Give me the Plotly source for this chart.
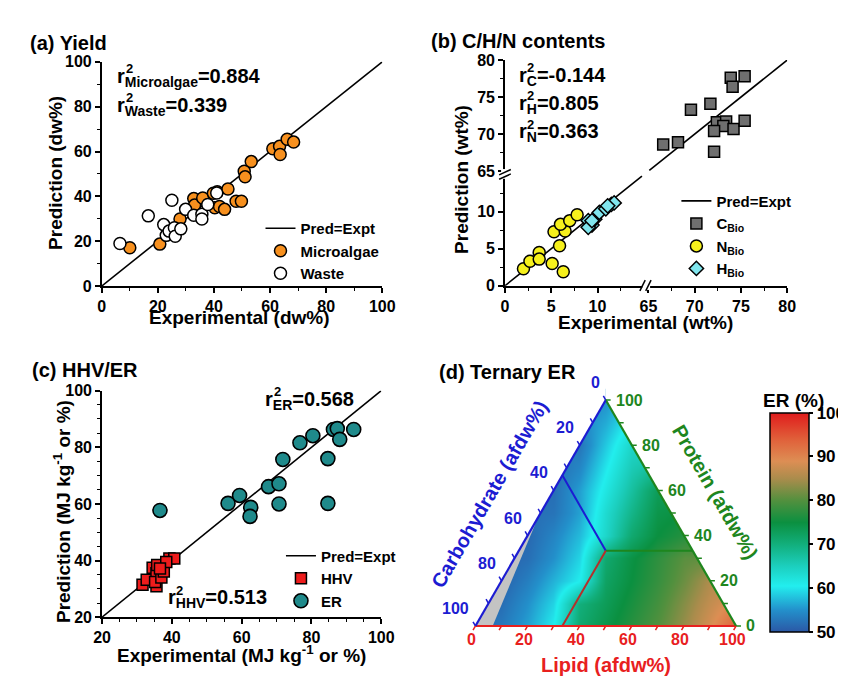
import math
import plotly.graph_objects as go

W, H = 846, 677
FONT = "Liberation Sans, Arial, sans-serif"

def fx(x):
    return x / W

def fy(y):
    return 1 - y / H

# ---------------- (a) Yield ----------------
a_micro_x = [10.0, 20.7, 27.9, 32.8, 33.1, 36.0, 39.8, 41.2, 40.3, 42.0, 43.8, 45.0, 47.9, 49.8, 50.8, 51.1, 53.3, 61.0, 63.4, 63.6, 66.1, 68.4]
a_micro_y = [17.1, 18.7, 29.9, 39.0, 36.1, 39.3, 41.4, 42.0, 34.9, 35.5, 34.2, 43.3, 37.8, 37.8, 51.2, 48.7, 55.5, 61.2, 62.3, 58.7, 65.5, 64.2]
a_waste_x = [6.5, 16.6, 22.1, 23.0, 24.0, 25.0, 25.9, 26.2, 28.2, 29.9, 32.8, 35.7, 35.7, 37.8, 41.0]
a_waste_y = [19.0, 31.3, 27.4, 22.6, 24.5, 38.3, 26.0, 22.2, 25.5, 34.2, 31.6, 32.0, 29.9, 36.4, 41.5]
a_ref = [0, 100]
a_ticks = [0, 20, 40, 60, 80, 100]

# ---------------- (b) C/H/N contents (broken axes) ----------------
b_C_x = [66.6, 68.2, 69.6, 71.7, 73.9, 74.1, 75.4, 72.4, 73.4, 73.1, 72.1, 74.2, 75.4, 72.1]
b_C_y = [68.6, 68.9, 73.3, 74.1, 77.6, 76.4, 77.8, 71.6, 71.7, 71.1, 70.4, 70.7, 71.8, 67.6]
b_N_x = [2.0, 2.7, 3.7, 3.7, 5.1, 6.3, 5.9, 5.3, 6.5, 6.0, 7.0, 7.8]
b_N_y = [2.3, 3.3, 4.5, 3.6, 3.0, 1.9, 5.4, 7.3, 7.4, 8.3, 8.8, 9.6]
b_H_x = [9.0, 9.4, 9.0, 9.7, 10.2, 10.9, 11.5, 11.8, 9.4, 11.1]
b_H_y = [8.8, 8.2, 7.9, 9.0, 9.9, 10.4, 11.0, 11.2, 8.8, 10.8]
b_ref = [0, 14.8, None, 65.1, 80]
b_ticks = [0, 5, 10, 65, 70, 75, 80]
b_minor = [2.5, 7.5, 12.5, 67.5, 72.5, 77.5]
BREAK_OFFSET = 49.5

def brk(v):
    if v is None:
        return None
    return v if v < 40 else v - BREAK_OFFSET

# ---------------- (c) HHV/ER ----------------
c_HHV_x = [31.6, 32.8, 34.5, 35.6, 35.8, 35.6, 35.2, 37.0, 37.7, 39.3, 40.7, 38.4, 36.6]
c_HHV_y = [31.5, 33.2, 37.5, 35.5, 38.4, 30.9, 32.4, 34.0, 36.1, 40.7, 40.7, 39.5, 37.2]
c_ER_x = [36.6, 56.1, 59.4, 62.6, 62.4, 67.7, 70.7, 70.7, 71.8, 76.7, 80.4, 84.7, 84.7, 86.3, 87.4, 88.1, 92.1]
c_ER_y = [57.7, 60.2, 63.0, 58.8, 55.6, 66.1, 67.1, 60.0, 75.7, 81.6, 84.1, 76.0, 60.2, 86.3, 86.6, 82.8, 86.3]
c_ref = [20, 100]
c_ticks = [20, 40, 60, 80, 100]

# ---------------- (d) Ternary ER ----------------
# grid: columns = horizontal position across the triangle (0 = carbohydrate vertex, 1 = lipid vertex)
# rows = protein fraction 0..1 ; values = ER (%)
tern_X = [0.0, 0.1, 0.2, 0.3, 0.4, 0.5, 0.6, 0.7, 0.8, 0.9, 1.0]
tern_protein = [0.0, 0.1, 0.2, 0.3, 0.4, 0.5, 0.6, 0.7, 0.8, 0.9, 1.0]
tern_ER = [
    [51, 53, 56, 60.5, 71, 74, 77, 80, 84, 88.5, 94],
    [51, 52, 55, 59, 70, 73, 76, 79, 83, 87, 90],
    [51, 51, 53.5, 57, 60.5, 72, 75, 78, 81.5, 85.5, 86],
    [51, 51, 52, 55, 59, 71, 74.5, 77.5, 80.5, 81, 81],
    [52, 52, 51.5, 54, 57.5, 63.8, 71, 75, 77, 77, 77],
    [52, 52, 52, 52.5, 56, 63.2, 69, 74, 75, 75, 75],
    [52, 52, 52, 52, 55.9, 61.6, 67.3, 73, 73, 73, 73],
    [53, 53, 53, 52, 54.2, 60, 65.6, 68, 68, 68, 68],
    [54, 54, 54, 54, 52.6, 58.3, 64, 64, 64, 64, 64],
    [54, 54, 54, 54, 54, 56.6, 61, 61, 61, 61, 61],
    [54, 54, 54, 54, 54, 55, 58, 58, 58, 58, 58],
]
tern_ticks = [0, 20, 40, 60, 80, 100]
tern_minor = [0, 10, 20, 30, 40, 50, 60, 70, 80, 90, 100]
gray_lipid_bottom = 0.066   # no-data wedge
gray_protein_tip = 0.48
er_range = [50, 100]
er_ticks = [50, 60, 70, 80, 90, 100]

S3 = math.sqrt(3) / 2

def tern(l, p):
    return (l + p / 2, p * S3)

er_colorscale = [
    [0.00, "#2b58a6"], [0.10, "#2390cb"], [0.21, "#22eeee"], [0.30, "#1ccfbe"],
    [0.40, "#12af7c"], [0.50, "#0b9040"], [0.60, "#52903e"], [0.70, "#aa8c4c"],
    [0.78, "#dd8e54"], [0.88, "#e0603a"], [1.00, "#e01c1c"],
]

fig = go.Figure()

# (a)
fig.add_trace(go.Scatter(x=a_ref, y=a_ref, mode="lines", line=dict(color="black", width=1.6),
                         name="Pred=Expt", xaxis="x", yaxis="y", legend="legend"))
fig.add_trace(go.Scatter(x=a_micro_x, y=a_micro_y, mode="markers", name="Microalgae",
                         marker=dict(size=12, color="#f7901e", line=dict(color="black", width=1.5)),
                         xaxis="x", yaxis="y", legend="legend"))
fig.add_trace(go.Scatter(x=a_waste_x, y=a_waste_y, mode="markers", name="Waste",
                         marker=dict(size=12, color="white", line=dict(color="black", width=1.5)),
                         xaxis="x", yaxis="y", legend="legend"))

# (b)
fig.add_trace(go.Scatter(x=[brk(v) for v in b_ref], y=[brk(v) for v in b_ref], mode="lines",
                         line=dict(color="black", width=1.6), name="Pred=Expt",
                         xaxis="x2", yaxis="y2", legend="legend2", connectgaps=False))
fig.add_trace(go.Scatter(x=[brk(v) for v in b_C_x], y=[brk(v) for v in b_C_y], mode="markers",
                         name="C<sub>Bio</sub>", marker=dict(symbol="square", size=11, color="#6f6f6f",
                                                            line=dict(color="black", width=1.5)),
                         xaxis="x2", yaxis="y2", legend="legend2"))
fig.add_trace(go.Scatter(x=b_N_x, y=b_N_y, mode="markers", name="N<sub>Bio</sub>",
                         marker=dict(size=12, color="#f6f01c", line=dict(color="black", width=1.5)),
                         xaxis="x2", yaxis="y2", legend="legend2"))
fig.add_trace(go.Scatter(x=b_H_x, y=b_H_y, mode="markers", name="H<sub>Bio</sub>",
                         marker=dict(symbol="diamond", size=11, color="#80e6ee",
                                     line=dict(color="black", width=1.5)),
                         xaxis="x2", yaxis="y2", legend="legend2"))

# (c)
fig.add_trace(go.Scatter(x=c_ref, y=c_ref, mode="lines", line=dict(color="black", width=1.6),
                         name="Pred=Expt", xaxis="x3", yaxis="y3", legend="legend3"))
fig.add_trace(go.Scatter(x=c_HHV_x, y=c_HHV_y, mode="markers", name="HHV",
                         marker=dict(symbol="square", size=11, color="#ee1c1c", line=dict(color="black", width=1.5)),
                         xaxis="x3", yaxis="y3", legend="legend3"))
fig.add_trace(go.Scatter(x=c_ER_x, y=c_ER_y, mode="markers", name="ER",
                         marker=dict(size=14, color="#1f8a8b", line=dict(color="black", width=1.6)),
                         xaxis="x3", yaxis="y3", legend="legend3"))

# (d) colour field
fig.add_trace(go.Heatmap(
    x=tern_X, y=[p * S3 for p in tern_protein], z=tern_ER, zmin=er_range[0], zmax=er_range[1],
    colorscale=er_colorscale, zsmooth="best", xaxis="x4", yaxis="y4", hoverinfo="skip",
    colorbar=dict(x=fx(773), xanchor="left", xpad=0, y=fy(519.2), yanchor="middle", ypad=0,
                  len=225 / H, lenmode="fraction", thickness=39, thicknessmode="pixels",
                  outlinewidth=1.5, outlinecolor="black", tickmode="array", tickvals=er_ticks,
                  ticks="outside", ticklen=4, tickwidth=1.5, tickcolor="black",
                  tickfont=dict(family=FONT, size=17, color="black", weight="bold")),
))

# ---------------- axes ----------------
tickfont = dict(family=FONT, size=16, color="black", weight="bold")
base = dict(showline=True, linecolor="black", linewidth=1.6, ticks="outside", ticklen=5,
            tickwidth=1.6, tickcolor="black", showgrid=False, zeroline=False, tickfont=tickfont)

def minor_d(dt):
    return dict(dtick=dt, ticks="outside", ticklen=3, tickwidth=1.4, tickcolor="black", showgrid=False)

# ternary axes pixel geometry
TRI_L, TRI_B, TRI_SC = 470.7, 625.7, 267.6
D4_X0, D4_X1, D4_Y0, D4_Y1 = 440, 772, 662, 378

layout = dict(
    width=W, height=H, margin=dict(l=0, r=0, t=0, b=0),
    paper_bgcolor="white", plot_bgcolor="white",
    font=dict(family=FONT, size=15, color="black", weight="bold"),
    xaxis=dict(base, domain=[fx(87), fx(375)], range=[0, 100], tickmode="array", tickvals=a_ticks,
               minor=minor_d(10), anchor="y"),
    yaxis=dict(base, domain=[fy(277), fy(47)], range=[0, 100], tickmode="array", tickvals=a_ticks,
               minor=minor_d(10), anchor="x"),
    xaxis2=dict(base, domain=[fx(501), fx(501 + 30.5 * 9.5)], range=[0, 30.5], tickmode="array",
                tickvals=[brk(v) for v in b_ticks], ticktext=[str(v) for v in b_ticks],
                minor=dict(tickmode="array", tickvals=[brk(v) for v in b_minor], ticks="outside",
                           ticklen=3, tickwidth=1.4, tickcolor="black"), anchor="y2"),
    yaxis2=dict(base, domain=[fy(276.7), fy(276.7 - 30.5 * 7.59)], range=[0, 30.5], tickmode="array",
                tickvals=[brk(v) for v in b_ticks], ticktext=[str(v) for v in b_ticks],
                minor=dict(tickmode="array", tickvals=[brk(v) for v in b_minor], ticks="outside",
                           ticklen=3, tickwidth=1.4, tickcolor="black"), anchor="x2"),
    xaxis3=dict(base, domain=[fx(87.3), fx(374)], range=[20, 100], tickmode="array", tickvals=c_ticks,
                minor=minor_d(5), anchor="y3"),
    yaxis3=dict(base, domain=[fy(616.7), fy(384.3)], range=[20, 100], tickmode="array", tickvals=c_ticks,
                minor=minor_d(5), anchor="x3"),
    xaxis4=dict(visible=False, domain=[fx(D4_X0), fx(D4_X1)],
                range=[(D4_X0 - TRI_L) / TRI_SC, (D4_X1 - TRI_L) / TRI_SC], anchor="y4", fixedrange=True),
    yaxis4=dict(visible=False, domain=[fy(D4_Y0), fy(D4_Y1)],
                range=[(TRI_B - D4_Y0) / TRI_SC, (TRI_B - D4_Y1) / TRI_SC], anchor="x4", fixedrange=True),
)

leg_common = dict(xanchor="left", yanchor="top", bgcolor="rgba(0,0,0,0)", borderwidth=0,
                  font=dict(family=FONT, size=15, color="black", weight="bold"), tracegroupgap=0)
layout["legend"] = dict(leg_common, x=fx(250), y=fy(201))
layout["legend2"] = dict(leg_common, x=fx(677), y=fy(173))
layout["legend3"] = dict(leg_common, x=fx(271), y=fy(537))

fig.update_layout(**layout)

# ---------------- annotations ----------------
annotations = []

def text(s, x, y, size, color="black", xanchor="center", yanchor="middle", angle=0):
    annotations.append(dict(text=s, x=fx(x), y=fy(y), xref="paper", yref="paper", showarrow=False,
                            xanchor=xanchor, yanchor=yanchor, textangle=angle,
                            font=dict(family=FONT, size=size, color=color, weight="bold")))

def tann(s, X, Y, size, color, xanchor, yanchor, xshift=0, yshift=0, angle=0):
    annotations.append(dict(text=s, x=X, y=Y, xref="x4", yref="y4", showarrow=False,
                            xanchor=xanchor, yanchor=yanchor, xshift=xshift, yshift=yshift,
                            textangle=angle, font=dict(family=FONT, size=size, color=color, weight="bold")))

# titles
text("(a) Yield", 11, 28, 20, xanchor="left")
text("(b) C/H/N contents", 423, 26, 20, xanchor="left")
text("(c) HHV/ER", 13, 363, 20, xanchor="left")
text("(d) Ternary ER", 431, 365, 20, xanchor="left")

# axis titles
text("Prediction (dw%)", 40, 161, 19, angle=-90)
text("Experimental (dw%)", 228, 309, 19)
text("Prediction (wt%)", 457, 168, 19, angle=-90)
text("Experimental (wt%)", 645, 314, 19)
text("Prediction (MJ kg<sup>-1</sup> or %)", 46, 508, 19, angle=-90)
text("Experimental (MJ kg<sup>-1</sup> or %)", 231, 654, 19)

# r^2 labels: main text with subscript + stacked superscript "2"
def r2(sub, val, x, y, subsize=13):
    annotations.append(dict(text="r<sub>%s</sub>=%s" % (sub, val), x=fx(x), y=fy(y), xref="paper", yref="paper",
                            showarrow=False, xanchor="left", yanchor="middle",
                            font=dict(family=FONT, size=20, color="black", weight="bold")))
    annotations.append(dict(text="2", x=fx(x + 8.5), y=fy(y - 9), xref="paper", yref="paper",
                            showarrow=False, xanchor="left", yanchor="middle",
                            font=dict(family=FONT, size=subsize, color="black", weight="bold")))

r2("Microalgae", "0.884", 101, 63)
r2("Waste", "0.339", 101, 93)
r2("C", "-0.144", 513, 62)
r2("H", "0.805", 513, 91)
r2("N", "0.363", 513, 120)
r2("ER", "0.568", 253, 394)
r2("HHV", "0.513", 153, 598)

# ternary labels
RED, GREEN, BLUE = "#e8201e", "#1e861e", "#1c1cd2"
for t in tern_ticks:
    X, Y = tern(t / 100, 0)
    tann(str(t), X, Y, 16, RED, "center", "middle", xshift=-4, yshift=-14)
    X, Y = tern(1 - t / 100, t / 100)
    tann(str(t), X, Y, 16, GREEN, "left", "middle", xshift=8)
    X, Y = tern(0, 1 - t / 100)
    tann(str(t), X, Y, 16, BLUE, "right", "bottom", xshift=-4, yshift=7)

text("Lipid (afdw%)", 605, 666, 20, color=RED)
text("Protein (afdw%)", 717, 488, 20, color=GREEN, angle=60)
text("Carbohydrate (afdw%)", 485, 490, 20, color=BLUE, angle=-60)
text("ER (%)", 797, 394, 19)

fig.update_layout(annotations=annotations)

# ---------------- shapes ----------------
shapes = []

def pline(x0, y0, x1, y1, color="black", width=1.5):
    shapes.append(dict(type="line", xref="paper", yref="paper", x0=fx(x0), y0=fy(y0), x1=fx(x1), y1=fy(y1),
                       line=dict(color=color, width=width), layer="above"))

def prect(x0, y0, x1, y1):
    shapes.append(dict(type="rect", xref="paper", yref="paper", x0=fx(x0), y0=fy(y0), x1=fx(x1), y1=fy(y1),
                       fillcolor="white", line=dict(width=0), layer="above"))

# axis breaks in (b)
prect(642, 273, 650, 281)
pline(639.5, 282, 645, 271)
pline(645.5, 282, 651, 271)
prect(497, 157, 505, 167)
pline(495, 163, 507, 157.5)
pline(495, 167.5, 507, 162)

def tpath(pts, fill):
    d = "M " + " L ".join("%f,%f" % p for p in pts) + " Z"
    shapes.append(dict(type="path", xref="x4", yref="y4", path=d, fillcolor=fill,
                       line=dict(width=0), layer="above"))

def tline(p0, p1, color, width=2):
    shapes.append(dict(type="line", xref="x4", yref="y4", x0=p0[0], y0=p0[1], x1=p1[0], y1=p1[1],
                       line=dict(color=color, width=width), layer="above"))

# mask everything outside the triangle
tpath([(-0.2, 0), (0, 0), (0.5, S3), (0.5, 1.0), (-0.2, 1.0)], "white")
tpath([(1.2, 0), (1, 0), (0.5, S3), (0.5, 1.0), (1.2, 1.0)], "white")
tpath([(-0.2, -0.2), (1.2, -0.2), (1.2, 0), (-0.2, 0)], "white")
# no-data wedge
tpath([tern(0, 0), tern(gray_lipid_bottom, 0), tern(0, gray_protein_tip)], "#c3c3c3")

# region boundaries from the centre
ctr = tern(1 / 3, 1 / 3)
tline(ctr, tern(0, 2 / 3), BLUE)
tline(ctr, tern(2 / 3, 1 / 3), GREEN)
tline(ctr, tern(1 / 3, 0), "#b4302a")

# edges
tline(tern(0, 0), tern(1, 0), RED, 2.2)
tline(tern(1, 0), tern(0, 1), GREEN, 2.2)
tline(tern(0, 1), tern(0, 0), BLUE, 2.2)

# ticks
TL = 5 / TRI_SC
for t in tern_minor:
    f = t / 100
    X, Y = tern(f, 0)
    tline((X, Y), (X - 0.5 * TL, Y - S3 * TL), RED, 1.5)
    X, Y = tern(1 - f, f)
    tline((X, Y), (X + TL, Y), GREEN, 1.5)
    X, Y = tern(0, 1 - f)
    tline((X, Y), (X - 0.5 * TL, Y + S3 * TL), BLUE, 1.5)

fig.update_layout(shapes=shapes)

fig.write_html("out.html")
